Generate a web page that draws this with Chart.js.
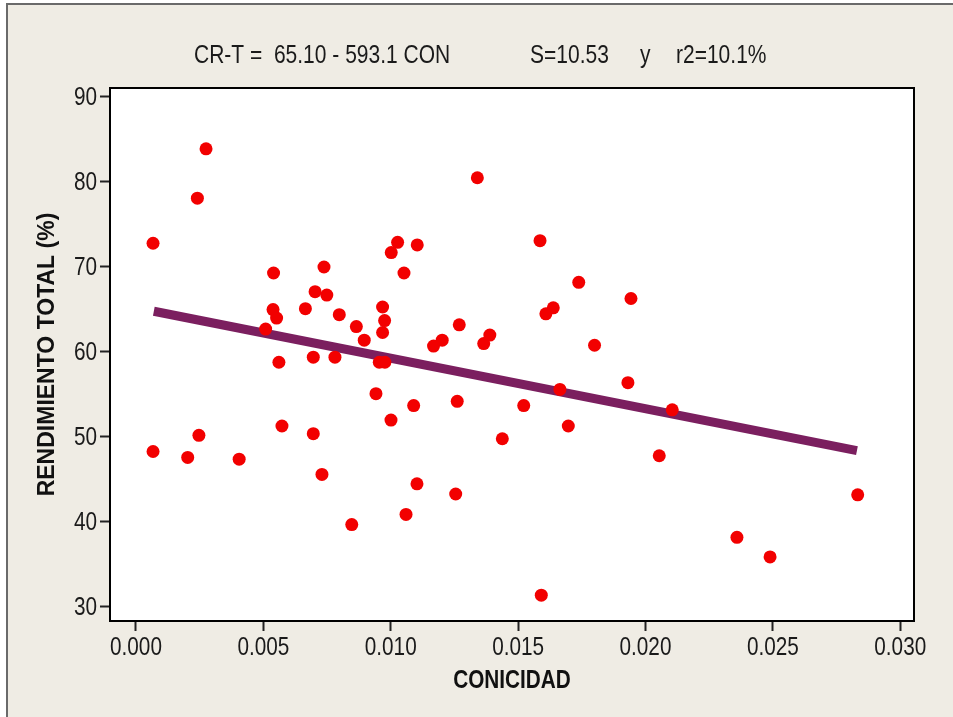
<!DOCTYPE html>
<html>
<head>
<meta charset="utf-8">
<script src="https://cdn.jsdelivr.net/npm/chart.js@4"></script>
<style>
  html, body { margin: 0; padding: 0; background: #ffffff; }
  canvas { display: block; }
</style>
</head>
<body>
<canvas id="fitChart" width="953" height="717"></canvas>
<script>
// Regression plot: RENDIMIENTO TOTAL vs CONICIDAD

// values
const conicidad = [
    0.00275, 0.00241, 0.00067, 0.00540, 0.00738, 0.00703, 0.00749, 0.00665, 0.00968, 0.00798,
    0.00538, 0.00552, 0.00976, 0.00865, 0.00968, 0.00509, 0.00896, 0.01027, 0.01002, 0.01104,
    0.01052, 0.00561, 0.00696, 0.00781, 0.00955, 0.00977, 0.00942, 0.01090, 0.01001, 0.00573,
    0.00696, 0.00247, 0.00067, 0.00203, 0.00405, 0.00730, 0.01103, 0.01060, 0.00847, 0.01340,
    0.01586, 0.01738, 0.01943, 0.01638, 0.01609, 0.01269, 0.01202, 0.01168, 0.01389, 0.01365,
    0.01800, 0.01664, 0.01931, 0.02105, 0.01261, 0.01522, 0.01697, 0.01438, 0.02054, 0.01255,
    0.01591, 0.02833, 0.02359, 0.02489
];
const rendimiento = [
    83.8, 78.0, 72.7, 69.2, 69.9, 67.0, 66.6, 65.0, 65.2, 64.3,
    64.9, 63.9, 63.6, 62.9, 62.2, 62.6, 61.3, 72.8, 71.6, 72.5,
    69.2, 58.7, 59.3, 59.3, 58.7, 58.7, 55.0, 53.6, 51.9, 51.2,
    50.3, 50.1, 48.2, 47.5, 47.3, 45.5, 44.4, 40.8, 39.6, 80.4,
    73.0, 68.1, 66.2, 65.1, 64.4, 63.1, 61.3, 60.6, 61.9, 60.9,
    60.7, 55.5, 56.3, 53.1, 54.1, 53.6, 51.2, 49.7, 47.7, 43.2,
    31.3, 43.1, 38.1, 35.8
];
// ends of the fitted line as drawn
const fitX = [0.0007, 0.0283];
const fitY = [64.7, 48.3];

const xTicks = [0.000, 0.005, 0.010, 0.015, 0.020, 0.025, 0.030];
const yTicks = [30, 40, 50, 60, 70, 80, 90];

const titleLeft = 'CR-T =  65.10 - 593.1 CON';
const titleS = 'S=10.53';
const titleY = 'y';
const titleR2 = 'r2=10.1%';
const xTitle = 'CONICIDAD';

const PAGE_BG = '#efece4';
const SANS = "'Liberation Sans', Arial, sans-serif";

// the reference uses a narrow face; squeeze Liberation Sans to get there
function narrowText(ctx, text, x, y, align, font, squeeze) {
    ctx.save();
    ctx.font = font;
    ctx.translate(x, y);
    ctx.scale(squeeze, 1);
    ctx.textAlign = align;
    ctx.textBaseline = 'alphabetic';
    ctx.fillText(text, 0, 0);
    ctx.restore();
}

// page frame, white plot area, box, tick labels and the header text
const framePlugin = {
    id: 'frame',
    beforeDraw(chart) {
        const { ctx, chartArea: a, width, height } = chart;
        ctx.save();
        ctx.fillStyle = '#ffffff';
        ctx.fillRect(0, 0, width, height);
        ctx.fillStyle = PAGE_BG;
        ctx.fillRect(7, 4, width - 7, height - 4);
        ctx.strokeStyle = '#6a6a6a';
        ctx.lineWidth = 2;
        ctx.beginPath();
        ctx.moveTo(7, height);
        ctx.lineTo(7, 4);
        ctx.lineTo(width, 4);
        ctx.stroke();
        ctx.fillStyle = '#ffffff';
        ctx.fillRect(a.left, a.top, a.right - a.left, a.bottom - a.top);
        ctx.restore();
    },
    afterDraw(chart) {
        const { ctx, chartArea: a } = chart;
        const xs = chart.scales.x, ys = chart.scales.y;
        ctx.save();
        ctx.strokeStyle = '#000000';
        ctx.lineWidth = 2;
        ctx.strokeRect(a.left, a.top, a.right - a.left, a.bottom - a.top);

        ctx.fillStyle = '#1a1a1a';
        const tickFont = '25px ' + SANS;
        xs.ticks.forEach(t => {
            narrowText(ctx, t.value.toFixed(3), xs.getPixelForValue(t.value), 655, 'center', tickFont, 0.83);
        });
        ys.ticks.forEach(t => {
            narrowText(ctx, String(t.value), 97, ys.getPixelForValue(t.value) + 9, 'right', tickFont, 0.83);
        });

        const headFont = '25px ' + SANS;
        narrowText(ctx, titleLeft, 194, 63, 'left', headFont, 0.84);
        narrowText(ctx, titleS, 530, 63, 'left', headFont, 0.84);
        narrowText(ctx, titleY, 640, 63, 'left', headFont, 0.84);
        narrowText(ctx, titleR2, 676, 63, 'left', headFont, 0.84);

        ctx.fillStyle = '#111111';
        narrowText(ctx, xTitle, (a.left + a.right) / 2, 688, 'center', 'bold 25px ' + SANS, 0.83);
        ctx.restore();
    }
};

const ctx = document.getElementById('fitChart').getContext('2d');
const fitChart = new Chart(ctx, {
    data: {
        datasets: [
            {
                type: 'scatter',
                label: 'datos',
                data: conicidad.map((x, i) => ({ x: x, y: rendimiento[i] })),
                backgroundColor: '#f20000',
                borderWidth: 0,
                pointRadius: 6.5,
                pointHoverRadius: 6.5,
                order: 0
            },
            {
                type: 'line',
                label: 'ajuste',
                data: fitX.map((x, i) => ({ x: x, y: fitY[i] })),
                borderColor: '#7b1f5f',
                borderWidth: 9,
                borderCapStyle: 'butt',
                pointRadius: 0,
                fill: false,
                order: 1
            }
        ]
    },
    options: {
        responsive: false,
        animation: false,
        devicePixelRatio: 1,
        layout: { padding: { left: 0, top: 88, right: 39, bottom: 0 } },
        plugins: {
            legend: { display: false },
            tooltip: { enabled: false }
        },
        scales: {
            x: {
                type: 'linear',
                min: -0.00102,
                max: 0.03054,
                afterFit: s => { s.height = 96; },
                afterBuildTicks: s => { s.ticks = xTicks.map(v => ({ value: v })); },
                grid: { drawOnChartArea: false, tickLength: 10, tickWidth: 2, tickColor: '#222222' },
                border: { display: true, color: '#000000', width: 2 },
                ticks: { display: false },
                title: { display: false }
            },
            y: {
                type: 'linear',
                min: 28.26,
                max: 90.96,
                afterFit: s => { s.width = 110; },
                afterBuildTicks: s => { s.ticks = yTicks.map(v => ({ value: v })); },
                grid: { drawOnChartArea: false, tickLength: 10, tickWidth: 2, tickColor: '#222222' },
                border: { display: true, color: '#000000', width: 2 },
                ticks: { display: false },
                title: {
                    display: true,
                    text: 'RENDIMIENTO TOTAL (%)',
                    color: '#111111',
                    font: { family: SANS, size: 23, weight: 'bold' },
                    padding: { top: 34, bottom: 0 }
                }
            }
        }
    },
    plugins: [framePlugin]
});
</script>
</body>
</html>
